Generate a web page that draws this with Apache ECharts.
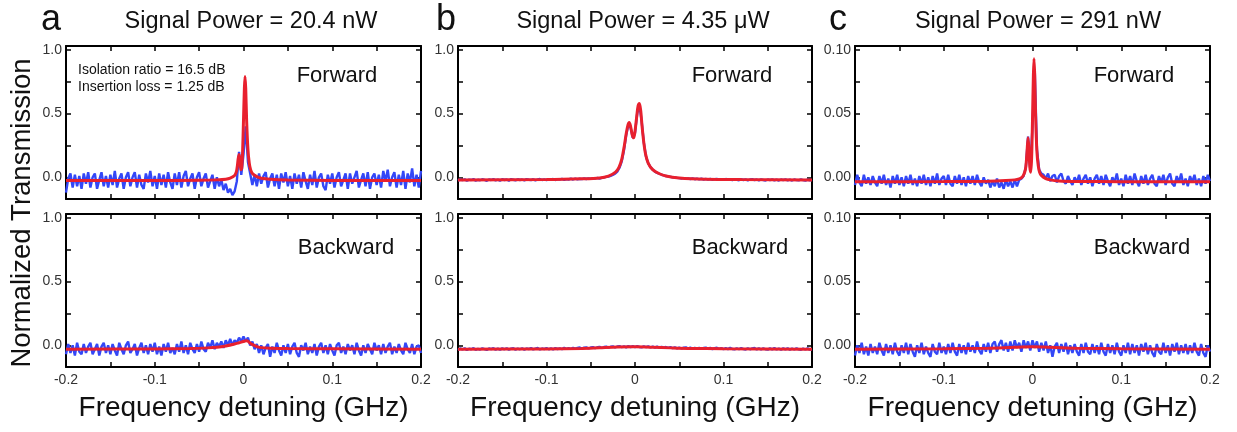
<!DOCTYPE html>
<html><head><meta charset="utf-8">
<script src="https://cdn.jsdelivr.net/npm/echarts@6/dist/echarts.min.js"></script>
<style>html,body{margin:0;padding:0;background:#fff}#c{width:1237px;height:432px}</style>
</head><body><div id="c"></div>
<script>
// ---- data ----
const panelLetters = ['a', 'b', 'c'];
const panelTitles = ['Signal Power = 20.4 nW', 'Signal Power = 4.35 \u03bcW', 'Signal Power = 291 nW'];
const rowLabels = ['Forward', 'Backward'];
const annotation = ['Isolation ratio = 16.5 dB', 'Insertion loss = 1.25 dB'];
const xLabelValues = [-0.2, -0.1, 0, 0.1, 0.2];
const xTickValues = [-0.2, -0.15, -0.1, -0.05, 0, 0.05, 0.1, 0.15, 0.2];
const yLabelValuesAB = [0, 0.5, 1.0];
const yTickValuesAB = [0, 0.25, 0.5, 0.75, 1.0];
const yLabelValuesC = [0, 0.05, 0.10];
const yTickValuesC = [0, 0.025, 0.05, 0.075, 0.10];
const yRangeAB = [-0.17, 1.03];
const yRangeC = [-0.017, 0.103];

// measured trace sample positions (GHz)
const xGrid = [-0.2,-0.1975,-0.195,-0.1925,-0.19,-0.1875,-0.185,-0.1825,-0.18,-0.1775,
-0.175,-0.1725,-0.17,-0.1675,-0.165,-0.1625,-0.16,-0.1575,-0.155,-0.1525,
-0.15,-0.1475,-0.145,-0.1425,-0.14,-0.1375,-0.135,-0.1325,-0.13,-0.1275,
-0.125,-0.1225,-0.12,-0.1175,-0.115,-0.1125,-0.11,-0.1075,-0.105,-0.1025,
-0.1,-0.0975,-0.095,-0.0925,-0.09,-0.0875,-0.085,-0.0825,-0.08,-0.0775,
-0.075,-0.0725,-0.07,-0.0675,-0.065,-0.0625,-0.06,-0.0575,-0.055,-0.0525,
-0.05,-0.0475,-0.045,-0.0425,-0.04,-0.0375,-0.035,-0.0325,-0.03,-0.0275,
-0.025,-0.0225,-0.02,-0.0175,-0.015,-0.0125,-0.01,-0.0075,-0.005,-0.0025,
0,0.0025,0.005,0.0075,0.01,0.0125,0.015,0.0175,0.02,0.0225,
0.025,0.0275,0.03,0.0325,0.035,0.0375,0.04,0.0425,0.045,0.0475,
0.05,0.0525,0.055,0.0575,0.06,0.0625,0.065,0.0675,0.07,0.0725,
0.075,0.0775,0.08,0.0825,0.085,0.0875,0.09,0.0925,0.095,0.0975,
0.1,0.1025,0.105,0.1075,0.11,0.1125,0.115,0.1175,0.12,0.1225,
0.125,0.1275,0.13,0.1325,0.135,0.1375,0.14,0.1425,0.145,0.1475,
0.15,0.1525,0.155,0.1575,0.16,0.1625,0.165,0.1675,0.17,0.1725,
0.175,0.1775,0.18,0.1825,0.185,0.1875,0.19,0.1925,0.195,0.1975,
0.2];

// panel a
const aFwdBlue = [-0.12,-0.01,0.03,-0.08,0.02,-0.07,0.01,-0.09,0.03,-0.05,
0.04,-0.08,0.0,0.03,-0.09,-0.02,0.04,-0.07,0.01,-0.08,
0.02,-0.06,0.05,-0.08,-0.01,0.03,-0.09,0.0,0.04,-0.07,
0.0,0.04,-0.08,0.02,-0.06,-0.09,0.03,-0.04,0.05,-0.07,
0.01,-0.09,0.03,-0.06,0.02,-0.08,0.04,-0.04,-0.09,0.03,
-0.06,0.04,-0.08,0.01,0.05,-0.07,-0.01,0.03,-0.09,0.0,
0.04,-0.07,-0.01,0.03,-0.08,-0.03,0.02,-0.09,0.0,-0.07,
-0.02,-0.1,-0.05,-0.12,-0.09,-0.14,-0.11,-0.03,0.2,0.02,
0.18,0.4,0.12,0.03,-0.06,0.02,-0.07,0.03,-0.05,0.01,
0.04,-0.08,-0.01,0.03,-0.07,0.02,-0.09,0.03,-0.04,0.04,
-0.07,0.01,-0.09,0.03,-0.05,0.02,-0.08,0.04,-0.03,-0.09,
0.02,-0.06,0.05,-0.08,0.0,0.03,-0.07,-0.1,0.02,-0.05,
0.03,-0.08,0.0,0.04,-0.07,-0.02,0.03,-0.09,0.03,-0.05,
0.0,0.05,-0.08,-0.02,0.03,-0.07,0.04,-0.09,0.0,0.03,
-0.06,0.02,-0.08,0.05,-0.03,0.06,-0.07,0.0,0.04,-0.08,
0.02,-0.06,0.05,-0.09,0.03,-0.04,0.07,-0.07,0.02,-0.08,
0.05];
const aFwdFitX = [-0.2,-0.1,-0.05,-0.03,-0.02,-0.015,-0.01,-0.008,-0.007,-0.006,-0.005,-0.004,-0.003,-0.002,-0.001,0,0.001,0.0017,0.0025,0.0035,0.005,0.0065,0.008,0.01,0.015,0.02,0.03,0.05,0.1,0.2];
const aFwdFitY = [-0.025,-0.025,-0.023,-0.02,-0.015,-0.006,0.015,0.045,0.085,0.145,0.18,0.14,0.06,0.07,0.2,0.45,0.7,0.79,0.7,0.45,0.22,0.11,0.06,0.03,0.005,-0.008,-0.016,-0.021,-0.024,-0.025];

const aBwdBlue = [-0.07,0.01,-0.06,0.0,-0.08,0.02,-0.05,-0.07,0.01,-0.06,
-0.01,0.02,-0.07,-0.03,0.01,-0.08,-0.01,0.02,-0.06,0.0,
-0.07,0.01,-0.04,-0.08,0.02,-0.03,-0.07,0.0,0.03,-0.06,
-0.03,0.01,-0.08,-0.02,0.02,-0.06,0.0,-0.07,0.01,-0.05,
0.02,-0.07,-0.01,-0.08,0.01,-0.05,0.02,-0.06,-0.02,-0.07,
0.01,-0.05,0.03,-0.06,0.0,-0.07,0.02,-0.03,-0.06,0.01,
-0.05,0.03,-0.03,-0.05,0.02,-0.02,0.04,-0.03,0.02,-0.01,
0.03,-0.02,0.04,0.0,0.05,0.0,0.04,0.02,0.06,0.03,
0.07,0.03,0.06,0.0,0.03,-0.03,0.01,-0.06,0.0,-0.07,
-0.02,0.01,-0.09,-0.01,-0.06,0.02,-0.04,-0.08,0.0,-0.06,
0.01,-0.07,-0.01,0.02,-0.06,-0.09,0.0,-0.04,0.02,-0.07,
-0.01,-0.06,0.01,-0.08,-0.01,0.02,-0.06,0.0,-0.07,0.01,
-0.04,-0.08,0.0,0.02,-0.06,-0.01,-0.07,0.01,-0.04,0.0,
-0.07,0.02,-0.04,-0.08,0.0,-0.06,0.01,-0.03,-0.07,0.02,
-0.04,0.0,-0.07,0.01,-0.06,-0.01,0.02,-0.07,-0.01,-0.06,
0.01,-0.04,-0.07,0.02,-0.03,-0.06,0.01,-0.07,-0.01,0.0,
-0.06];
const aBwdFitX = [-0.2,-0.1,-0.06,-0.04,-0.03,-0.02,-0.01,-0.005,0,0.003,0.005,0.008,0.012,0.016,0.02,0.03,0.05,0.1,0.2];
const aBwdFitY = [-0.03,-0.028,-0.025,-0.02,-0.015,-0.005,0.01,0.02,0.03,0.035,0.032,0.015,0.0,-0.012,-0.018,-0.022,-0.025,-0.027,-0.03];

// panel b
const bFwdBlue = [-0.026,-0.016,-0.023,-0.015,-0.027,-0.018,-0.021,-0.014,-0.026,-0.019,
-0.023,-0.015,-0.02,-0.027,-0.017,-0.021,-0.014,-0.024,-0.018,-0.026,
-0.015,-0.021,-0.017,-0.026,-0.014,-0.019,-0.024,-0.015,-0.021,-0.017,
-0.024,-0.014,-0.019,-0.022,-0.015,-0.024,-0.017,-0.013,-0.021,-0.016,
-0.022,-0.014,-0.018,-0.013,-0.021,-0.015,-0.017,-0.012,-0.02,-0.014,
-0.017,-0.011,-0.017,-0.01,-0.016,-0.011,-0.014,-0.009,-0.013,-0.008,
-0.012,-0.007,-0.01,-0.005,-0.009,-0.004,-0.001,0.003,0.006,0.012,
0.019,0.028,0.045,0.075,0.125,0.21,0.33,0.41,0.39,0.31,
0.35,0.5,0.57,0.44,0.27,0.16,0.11,0.08,0.06,0.045,
0.035,0.028,0.02,0.015,0.01,0.007,0.004,0.001,-0.001,-0.004,
-0.006,-0.009,-0.006,-0.012,-0.008,-0.013,-0.009,-0.015,-0.01,-0.016,
-0.011,-0.017,-0.012,-0.018,-0.013,-0.019,-0.014,-0.012,-0.019,-0.014,
-0.021,-0.013,-0.019,-0.015,-0.022,-0.014,-0.02,-0.023,-0.015,-0.021,
-0.016,-0.024,-0.017,-0.015,-0.022,-0.017,-0.024,-0.016,-0.021,-0.025,
-0.017,-0.022,-0.016,-0.024,-0.018,-0.025,-0.017,-0.022,-0.016,-0.024,
-0.018,-0.025,-0.017,-0.022,-0.024,-0.016,-0.022,-0.026,-0.018,-0.024,
-0.02];
const bFwdFitX = [-0.2,-0.1,-0.06,-0.04,-0.03,-0.022,-0.018,-0.015,-0.012,-0.01,-0.008,-0.0065,-0.005,-0.003,-0.0015,0,0.002,0.0035,0.005,0.0065,0.008,0.01,0.012,0.015,0.02,0.027,0.035,0.05,0.08,0.12,0.2];
const bFwdFitY = [-0.02,-0.018,-0.012,-0.005,0.01,0.04,0.08,0.14,0.25,0.34,0.41,0.43,0.4,0.33,0.31,0.36,0.48,0.56,0.58,0.52,0.4,0.27,0.18,0.11,0.06,0.03,0.01,-0.005,-0.015,-0.018,-0.02];

const bBwdBlue = [-0.036,-0.024,-0.033,-0.023,-0.037,-0.026,-0.031,-0.022,-0.035,-0.027,
-0.033,-0.023,-0.03,-0.036,-0.025,-0.03,-0.022,-0.034,-0.026,-0.035,
-0.024,-0.031,-0.023,-0.035,-0.026,-0.022,-0.034,-0.025,-0.031,-0.023,
-0.034,-0.025,-0.03,-0.022,-0.032,-0.026,-0.021,-0.032,-0.025,-0.03,
-0.022,-0.031,-0.024,-0.032,-0.021,-0.03,-0.023,-0.031,-0.02,-0.029,
-0.021,-0.029,-0.019,-0.028,-0.02,-0.017,-0.026,-0.018,-0.016,-0.025,
-0.017,-0.014,-0.023,-0.015,-0.012,-0.021,-0.013,-0.01,-0.019,-0.011,
-0.008,-0.017,-0.009,-0.006,-0.015,-0.007,-0.016,-0.005,-0.014,-0.006,
-0.015,-0.006,-0.013,-0.016,-0.007,-0.015,-0.008,-0.017,-0.009,-0.018,
-0.01,-0.019,-0.011,-0.02,-0.013,-0.021,-0.014,-0.023,-0.015,-0.024,
-0.017,-0.025,-0.018,-0.016,-0.026,-0.018,-0.027,-0.019,-0.028,-0.02,
-0.029,-0.021,-0.018,-0.028,-0.02,-0.03,-0.022,-0.019,-0.029,-0.021,
-0.031,-0.022,-0.03,-0.02,-0.029,-0.032,-0.023,-0.031,-0.021,-0.03,
-0.033,-0.023,-0.031,-0.024,-0.021,-0.032,-0.024,-0.033,-0.023,-0.031,
-0.034,-0.024,-0.032,-0.022,-0.033,-0.025,-0.035,-0.024,-0.032,-0.023,
-0.034,-0.025,-0.033,-0.023,-0.032,-0.035,-0.025,-0.033,-0.024,-0.034,
-0.029];
const bBwdFitX = [-0.2,-0.1,-0.06,-0.04,-0.02,0,0.02,0.04,0.06,0.1,0.2];
const bBwdFitY = [-0.03,-0.028,-0.024,-0.019,-0.014,-0.012,-0.015,-0.02,-0.024,-0.027,-0.03];

// panel c
const cFwdBlue = [-0.006,0.002,-0.004,-0.007,0.002,-0.005,0.0,-0.006,0.001,-0.004,
-0.007,0.001,-0.005,0.002,-0.006,-0.001,-0.008,0.001,-0.005,0.002,
-0.006,0.0,-0.007,0.001,-0.005,0.002,-0.006,-0.001,-0.007,0.001,
-0.005,0.002,-0.006,0.0,-0.007,0.001,-0.005,0.003,-0.006,-0.001,
0.001,-0.006,0.002,-0.005,-0.007,0.001,-0.005,0.002,-0.006,0.0,
-0.007,0.001,-0.005,0.001,-0.006,0.002,-0.004,-0.007,0.0,-0.005,
-0.002,-0.008,-0.003,-0.007,-0.001,-0.008,-0.004,-0.009,-0.002,-0.007,
-0.003,-0.008,-0.002,-0.007,-0.002,-0.001,0.001,0.008,0.032,0.006,
0.04,0.085,0.022,0.006,0.003,0.002,-0.001,0.003,-0.003,0.001,
0.002,-0.004,0.001,0.003,-0.003,-0.005,0.001,-0.003,-0.006,0.0,
-0.004,0.002,-0.006,-0.001,0.002,-0.005,0.0,-0.007,-0.001,0.002,
-0.005,0.001,-0.006,0.002,-0.003,-0.007,0.0,-0.004,0.003,-0.006,
-0.001,-0.007,0.002,-0.005,0.001,-0.006,0.003,-0.003,-0.007,0.001,
-0.005,0.002,-0.006,-0.001,0.002,-0.005,-0.007,0.001,-0.004,0.002,
-0.006,0.0,0.003,-0.005,-0.007,0.001,-0.004,0.003,-0.006,-0.001,
-0.007,0.001,-0.004,0.002,-0.006,-0.001,-0.007,0.001,-0.005,0.002,
-0.003];
const cFwdFitX = [-0.2,-0.1,-0.05,-0.03,-0.02,-0.015,-0.012,-0.01,-0.008,-0.007,-0.006,-0.005,-0.004,-0.003,-0.002,-0.001,0,0.001,0.0017,0.0025,0.0035,0.005,0.0065,0.008,0.01,0.015,0.02,0.03,0.05,0.1,0.2];
const cFwdFitY = [-0.0035,-0.0033,-0.003,-0.0025,-0.002,-0.0012,0.0,0.002,0.006,0.012,0.022,0.031,0.022,0.008,0.004,0.015,0.045,0.08,0.093,0.08,0.048,0.02,0.009,0.004,0.0015,-0.001,-0.002,-0.0028,-0.0032,-0.0034,-0.0035];

const cBwdBlue = [-0.008,0.0,-0.006,0.002,-0.007,-0.001,-0.008,0.001,-0.006,-0.001,
-0.007,0.002,-0.004,-0.008,0.001,-0.006,0.0,-0.007,0.002,-0.005,
-0.008,0.0,-0.006,0.002,-0.007,0.001,-0.005,-0.009,0.0,-0.006,
0.002,-0.007,-0.001,-0.006,-0.009,0.001,-0.005,-0.007,0.002,-0.006,
-0.001,-0.007,0.001,-0.006,0.002,-0.005,-0.008,0.001,-0.006,0.0,
-0.007,0.002,-0.005,0.0,-0.006,0.003,-0.004,-0.007,0.001,-0.005,
0.002,-0.006,0.001,0.003,-0.005,0.001,0.004,-0.004,0.002,-0.005,
0.003,-0.004,0.004,-0.002,0.002,-0.005,0.004,-0.002,0.003,-0.004,
0.004,-0.002,0.003,-0.005,0.002,-0.004,0.003,-0.006,0.0,-0.009,
-0.001,0.002,-0.006,0.001,-0.005,0.002,-0.007,0.0,-0.006,0.001,
-0.005,-0.008,0.001,-0.006,0.002,-0.005,-0.007,0.001,-0.006,0.0,
-0.007,0.002,-0.005,-0.008,0.001,-0.006,0.0,-0.007,0.002,-0.005,
-0.008,0.0,-0.006,0.002,-0.007,0.001,-0.006,0.0,-0.008,0.001,
-0.005,0.002,-0.007,0.0,-0.006,-0.009,0.001,-0.005,-0.007,0.002,
-0.006,0.0,-0.008,0.001,-0.005,0.002,-0.007,0.0,-0.006,0.001,
-0.007,0.0,-0.006,0.002,-0.005,-0.008,0.001,-0.006,-0.009,0.0,
-0.005];
const cBwdFitX = [-0.2,-0.1,-0.05,-0.02,0,0.02,0.05,0.1,0.2];
const cBwdFitY = [-0.003,-0.0027,-0.0022,-0.0015,-0.0012,-0.0015,-0.0022,-0.0027,-0.003];

// ---- build ----
const FONT = '"Liberation Sans", Arial, sans-serif';
const BLUE = '#3347f7';
const RED = '#e8202e';
const gridLefts = [66, 458, 855];
const gridWidths = [355, 354, 355];
const gridTops = [46, 214];
const gridH = 153;

const panels = [
  {blue: aFwdBlue, fx: aFwdFitX, fy: aFwdFitY, col: 0, row: 0},
  {blue: aBwdBlue, fx: aBwdFitX, fy: aBwdFitY, col: 0, row: 1},
  {blue: bFwdBlue, fx: bFwdFitX, fy: bFwdFitY, col: 1, row: 0},
  {blue: bBwdBlue, fx: bBwdFitX, fy: bBwdFitY, col: 1, row: 1},
  {blue: cFwdBlue, fx: cFwdFitX, fy: cFwdFitY, col: 2, row: 0},
  {blue: cBwdBlue, fx: cBwdFitX, fy: cBwdFitY, col: 2, row: 1}
];

const grid = [], xAxis = [], yAxis = [], series = [];
const lineAxis = {show: true, onZero: false, lineStyle: {color: '#000', width: 2}};
const tickStyle = {lineStyle: {color: '#000', width: 1.5}};

panels.forEach((p, i) => {
  const isC = p.col === 2;
  grid.push({left: gridLefts[p.col], top: gridTops[p.row], width: gridWidths[p.col], height: gridH, show: false});
  const showX = p.row === 1;
  const xBase = {
    type: 'value', gridIndex: i, min: -0.2, max: 0.2,
    axisLine: lineAxis, splitLine: {show: false},
    axisTick: Object.assign({show: true, inside: true, length: 5, customValues: xTickValues}, tickStyle)
  };
  xAxis.push(Object.assign({}, xBase, {
    position: 'bottom',
    axisLabel: {show: showX, customValues: xLabelValues, margin: 6, color: '#333', fontSize: 14, fontFamily: FONT,
      formatter: v => (Math.abs(v) < 1e-9 ? '0' : v.toFixed(1))}
  }));
  xAxis.push(Object.assign({}, xBase, {position: 'top', axisLabel: {show: false}}));
  const yr = isC ? yRangeC : yRangeAB;
  const yBase = {
    type: 'value', gridIndex: i, min: yr[0], max: yr[1],
    axisLine: lineAxis, splitLine: {show: false},
    axisTick: Object.assign({show: true, inside: true, length: 5, customValues: isC ? yTickValuesC : yTickValuesAB}, tickStyle)
  };
  yAxis.push(Object.assign({}, yBase, {
    position: 'left',
    axisLabel: {show: true, customValues: isC ? yLabelValuesC : yLabelValuesAB, margin: 4, color: '#333', fontSize: 14, fontFamily: FONT,
      formatter: v => v.toFixed(isC ? 2 : 1)}
  }));
  yAxis.push(Object.assign({}, yBase, {position: 'right', axisLabel: {show: false}}));

  series.push({
    type: 'line', xAxisIndex: 2 * i, yAxisIndex: 2 * i, showSymbol: false, symbol: 'none',
    data: xGrid.map((x, k) => [x, p.blue[k]]),
    lineStyle: {color: BLUE, width: 2.4}, z: 2, silent: true
  });
  series.push({
    type: 'line', xAxisIndex: 2 * i, yAxisIndex: 2 * i, showSymbol: false, symbol: 'none', smooth: 0.3,
    data: p.fx.map((x, k) => [x, p.fy[k]]),
    lineStyle: {color: RED, width: 3}, z: 3, silent: true
  });
});

const txt = (x, y, text, size, extra) => Object.assign({
  type: 'text', x: x, y: y, silent: true,
  style: {text: text, fontSize: size, fontFamily: FONT, fill: '#111', align: 'center', verticalAlign: 'middle'}
}, extra || {});

const graphic = [];
const letterX = [51, 446, 838];
const titleX = [251, 643, 1038];
const fwdX = [337, 732, 1134];
const bwdX = [346, 740, 1142];
for (let c = 0; c < 3; c++) {
  graphic.push(txt(letterX[c], 20, panelLetters[c], 36));
  graphic.push(txt(titleX[c], 22, panelTitles[c], 23.5));
  graphic.push(txt(fwdX[c], 76, rowLabels[0], 22));
  graphic.push(txt(bwdX[c], 248, rowLabels[1], 22));
  graphic.push(txt((gridLefts[c] + gridWidths[c] / 2), 408, 'Frequency detuning (GHz)', 28));
}
graphic.push({type: 'text', x: 78, y: 70, silent: true,
  style: {text: annotation[0], fontSize: 14, fontFamily: FONT, fill: '#111', align: 'left', verticalAlign: 'middle'}});
graphic.push({type: 'text', x: 78, y: 87, silent: true,
  style: {text: annotation[1], fontSize: 14, fontFamily: FONT, fill: '#111', align: 'left', verticalAlign: 'middle'}});
graphic.push({type: 'text', x: 22, y: 213, rotation: Math.PI / 2, silent: true,
  style: {text: 'Normalized Transmission', fontSize: 27.5, fontFamily: FONT, fill: '#111', align: 'center', verticalAlign: 'middle'}});

const chart = echarts.init(document.getElementById('c'), null, {renderer: 'canvas'});
chart.setOption({
  animation: false,
  backgroundColor: '#fff',
  grid: grid, xAxis: xAxis, yAxis: yAxis, series: series, graphic: graphic
});
</script></body></html>
